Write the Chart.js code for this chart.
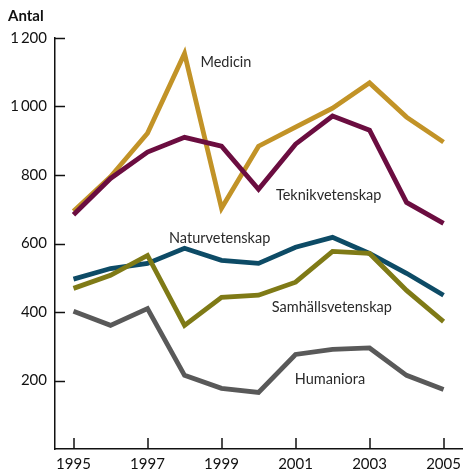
<!DOCTYPE html>
<html>
<head>
<meta charset="utf-8">
<script src="https://cdn.jsdelivr.net/npm/chart.js@4/dist/chart.umd.min.js"></script>
<style>
html,body{margin:0;padding:0;background:#fff;}
#wrap{width:467px;height:473px;position:relative;}
</style>
</head>
<body>
<div id="wrap"><canvas id="c" width="467" height="473"></canvas></div>
<script>
const years = [1995,1996,1997,1998,1999,2000,2001,2002,2003,2004,2005];
const xTickYears = [1995,1997,1999,2001,2003,2005];
const yTickValues = [200,400,600,800,1000,1200];
const medicin = [694,795,922,1155,703,884,940,995,1069,969,896];
const teknikvetenskap = [684,790,867,910,884,758,890,972,931,720,659];
const naturvetenskap = [496,527,542,586,551,542,589,618,571,513,449];
const samhallsvetenskap = [469,507,565,361,443,449,487,577,571,463,372];
const humaniora = [402,361,410,215,177,165,276,291,295,215,174];
const seriesNames = ['Medicin','Teknikvetenskap','Naturvetenskap','Samhällsvetenskap','Humaniora'];
// label anchors in data units [year, value]
const labelAnchors = [[1998.43,1115],[2000.47,726],[1997.58,601],[2000.36,399],[2000.98,191]];
const colors = ['#c29327','#6b0d40','#0d4b66','#7f7a16','#595959'];
const FONT = 'Lato, "Open Sans", sans-serif';

const allData = [medicin,teknikvetenskap,naturvetenskap,samhallsvetenskap,humaniora];
const orders = [2,1,2,1,1];
const datasets = allData.map((d,i)=>({
  label: seriesNames[i],
  data: years.map((y,j)=>({x:y,y:d[j]})),
  borderColor: colors[i],
  backgroundColor: colors[i],
  borderWidth: 4.8,
  pointRadius: 0,
  tension: 0,
  fill: false,
  order: orders[i],
  borderJoinStyle: 'miter',
  borderCapStyle: 'butt'
}));

const decor = {
  id:'decor',
  afterDraw(chart){
    const ctx = chart.ctx;
    const xs = chart.scales.x, ys = chart.scales.y;
    ctx.save();
    ctx.strokeStyle = '#111';
    ctx.lineWidth = 1.5;
    // inward ticks
    yTickValues.forEach(v=>{
      const py = Math.round(ys.getPixelForValue(v))+0.5;
      ctx.beginPath(); ctx.moveTo(xs.left, py); ctx.lineTo(xs.left+10, py); ctx.stroke();
    });
    xTickYears.forEach(v=>{
      const px = Math.round(xs.getPixelForValue(v));
      ctx.beginPath(); ctx.moveTo(px, ys.bottom); ctx.lineTo(px, ys.bottom-11); ctx.stroke();
    });
    // series labels
    ctx.fillStyle = '#2a2a2a';
    ctx.font = '14.5px ' + FONT;
    ctx.textAlign = 'left';
    ctx.textBaseline = 'alphabetic';
    labelAnchors.forEach((a,i)=>{
      ctx.fillText(seriesNames[i], xs.getPixelForValue(a[0]), ys.getPixelForValue(a[1]));
    });
    // axis title
    ctx.fillStyle = '#111';
    ctx.font = 'bold 15px ' + FONT;
    ctx.fillText('Antal', 8, 21);
    ctx.restore();
  }
};

new Chart(document.getElementById('c'), {
  type:'line',
  data:{datasets},
  options:{
    responsive:false,
    animation:false,
    layout:{padding:{top:38,right:1,left:0,bottom:0}},
    plugins:{legend:{display:false},tooltip:{enabled:false}},
    scales:{
      x:{
        type:'linear', min:1994.5, max:2005.5,
        afterBuildTicks(s){ s.ticks = xTickYears.map(v=>({value:v})); },
        afterFit(s){ s.height = 24; },
        grid:{display:false, drawTicks:false},
        border:{display:true, color:'#111', width:1.5},
        ticks:{padding:6, color:'#111', font:{family:FONT, size:15}, maxRotation:0, autoSkip:false,
          callback:(v)=>String(v)}
      },
      y:{
        type:'linear', min:0, max:1200,
        afterBuildTicks(s){ s.ticks = yTickValues.map(v=>({value:v})); },
        afterFit(s){ s.width = 55; },
        grid:{display:false, drawTicks:false},
        border:{display:true, color:'#111', width:1.5},
        ticks:{padding:8, color:'#111', font:{family:FONT, size:15},
          callback:(v)=> v>=1000 ? Math.floor(v/1000)+'\u2009'+String(v%1000).padStart(3,'0') : String(v)}
      }
    }
  },
  plugins:[decor]
});
</script>
</body>
</html>
